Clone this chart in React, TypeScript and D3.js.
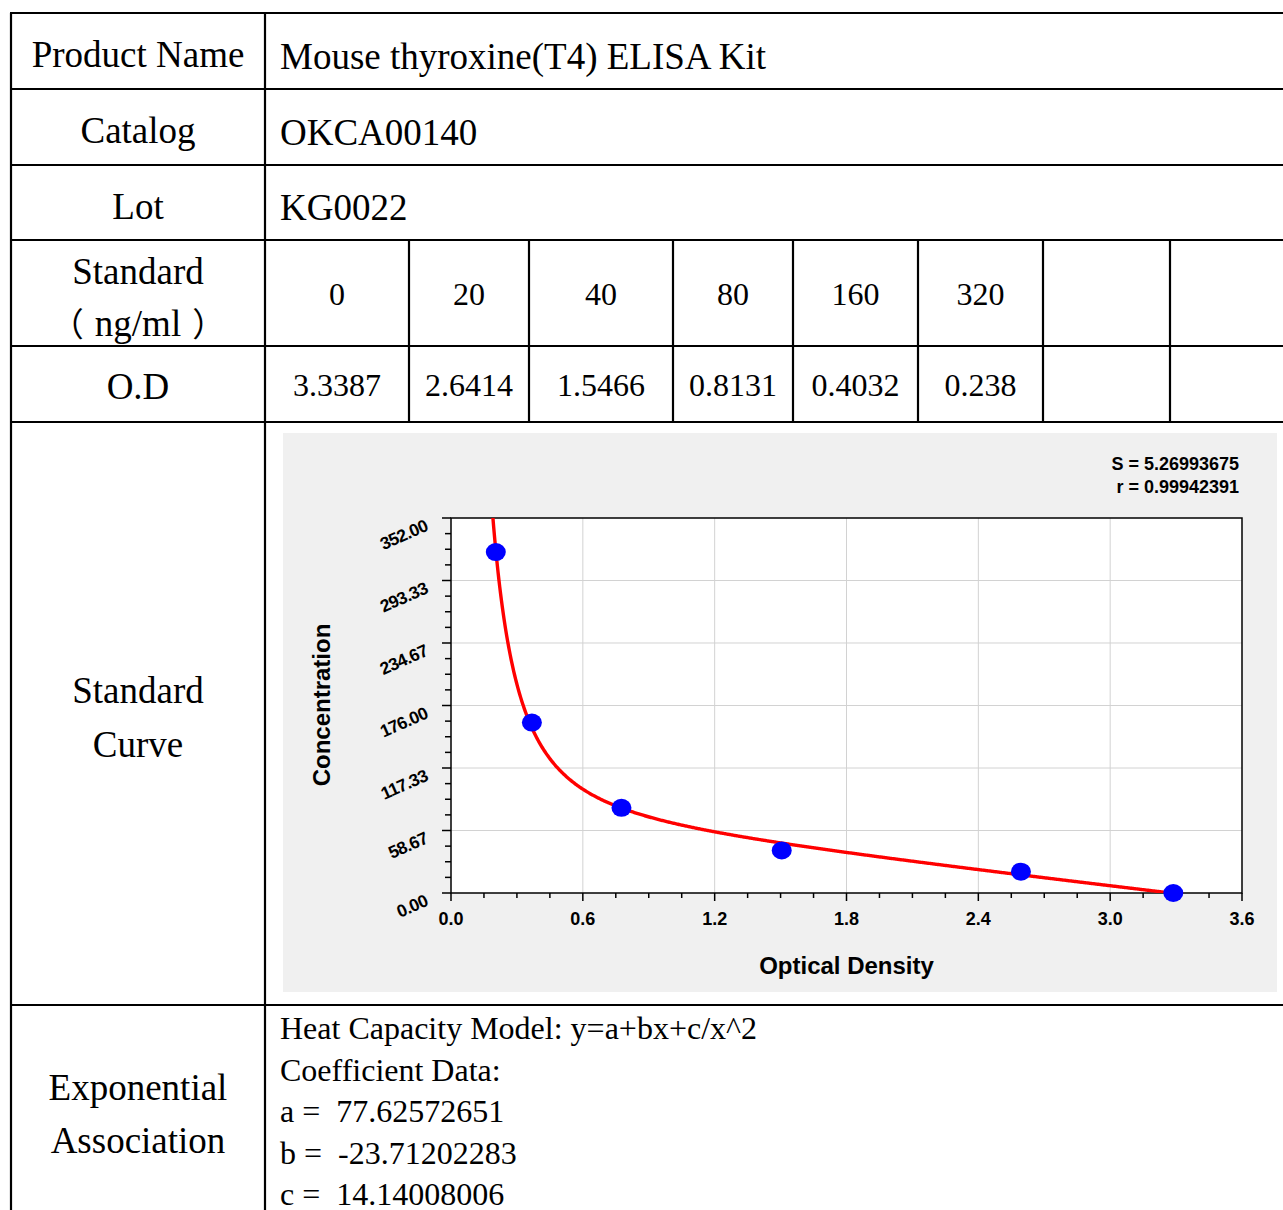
import React from 'react';
import * as d3 from 'd3';

// Table content
const standards = ['0', '20', '40', '80', '160', '320', '', ''];
const odLabels = ['3.3387', '2.6414', '1.5466', '0.8131', '0.4032', '0.238', '', ''];
const stdValues = [0, 20, 40, 80, 160, 320];
const odValues = [3.3387, 2.6414, 1.5466, 0.8131, 0.4032, 0.238];

// Fit (y = a + b*x + c/x^2)
const coefNames = ['a', 'b', 'c'];
const coefValues = [77.62572651, -23.71202283, 14.14008006];
const coefLabels = ['77.62572651', '-23.71202283', '14.14008006'];
const fitStats = ['S = 5.26993675', 'r = 0.99942391'];

// Axis ticks
const xTicks = [0, 0.6, 1.2, 1.8, 2.4, 3.0, 3.6];
const yTicks = [0, 58.67, 117.33, 176.0, 234.67, 293.33, 352.0];
const curveRange = [0.2, 3.41];

const W = 1283;
const H = 1210;

const serif = "'Liberation Serif', 'Times New Roman', 'Noto Sans CJK SC', serif";
const cjk = "'Noto Sans CJK SC', sans-serif";
const sans = "'Liberation Sans', Arial, sans-serif";

// table grid
const tableLeft = 11;
const colDiv = 265;
const rowLines = [13, 89, 165, 240, 346, 422, 1005];
const stdCols = [265, 409, 529, 673, 793, 918, 1043, 1170, 1290];

// plot frame
const panel = { x: 283, y: 433, w: 994, h: 559 };
const plot = { x0: 451, x1: 1242, y0: 518, y1: 893 };

export default function App() {
  const xAxis = d3.scaleLinear().domain([0, 3.6]).range([plot.x0, plot.x1]);
  // the marks in the source sit slightly left of the tick grid
  const xData = d3.scaleLinear().domain([0, 3.6]).range([443.8, 1230.4]);
  const y = d3.scaleLinear().domain([0, 352]).range([plot.y1, plot.y0]);

  const [a, b, c] = coefValues;
  const fit = (x: number) => a + b * x + c / (x * x);
  const curvePts = d3.range(curveRange[0], curveRange[1], 0.004).concat([curveRange[1]]);
  const line = d3
    .line<number>()
    .x((d) => xData(d))
    .y((d) => y(fit(d)))
    .curve(d3.curveLinear);

  const xMinor = d3.range(0, 3.6001, 0.15).filter((v) => Math.abs(v / 0.6 - Math.round(v / 0.6)) > 0.01);
  const yStep = 352 / 6;
  const yMinor = d3.range(0, 352.001, yStep / 4).filter((v) => Math.abs(v / yStep - Math.round(v / yStep)) > 0.01);

  const centre = (tableLeft + colDiv) / 2;

  return (
    <svg width={W} height={H} style={{ position: 'absolute', left: 0, top: 0, display: 'block', background: '#fff' }}>
      <defs>
        <clipPath id="plotClip">
          <rect x={plot.x0} y={plot.y0} width={plot.x1 - plot.x0} height={plot.y1 - plot.y0} />
        </clipPath>
      </defs>

      {/* Table lines */}
      <g stroke="#000" strokeWidth={2.2}>
        {rowLines.map((ry) => (
          <line key={ry} x1={tableLeft - 1} x2={W + 5} y1={ry} y2={ry} />
        ))}
        <line x1={tableLeft} x2={tableLeft} y1={rowLines[0]} y2={H + 5} />
        <line x1={colDiv} x2={colDiv} y1={rowLines[0]} y2={H + 5} />
        {stdCols.slice(1, -1).map((cx) => (
          <line key={cx} x1={cx} x2={cx} y1={rowLines[3]} y2={rowLines[5]} />
        ))}
      </g>

      {/* Left column labels */}
      <g fontFamily={serif} fontSize={37} textAnchor="middle" fill="#000">
        <text x={centre} y={67}>Product Name</text>
        <text x={centre} y={143}>Catalog</text>
        <text x={centre} y={219}>Lot</text>
        <text x={centre} y={284}>Standard</text>
        <text x={centre} y={336}>
          <tspan fontFamily={cjk} fontSize={33}>（</tspan>
          <tspan dx={11}>ng/ml</tspan>
          <tspan dx={11} fontFamily={cjk} fontSize={33}>）</tspan>
        </text>
        <text x={centre} y={399}>O.D</text>
        <text x={centre} y={703}>Standard</text>
        <text x={centre} y={757}>Curve</text>
        <text x={centre} y={1100}>Exponential</text>
        <text x={centre} y={1153}>Association</text>
      </g>

      {/* Right column values */}
      <g fontFamily={serif} fontSize={37} fill="#000">
        <text x={280} y={69}>Mouse thyroxine(T4) ELISA Kit</text>
        <text x={280} y={145}>OKCA00140</text>
        <text x={280} y={220}>KG0022</text>
      </g>

      <g fontFamily={serif} fontSize={32} textAnchor="middle" fill="#000">
        {standards.map((s, i) => (
          <text key={'s' + i} x={(stdCols[i] + stdCols[i + 1]) / 2} y={305}>{s}</text>
        ))}
        {odLabels.map((s, i) => (
          <text key={'o' + i} x={(stdCols[i] + stdCols[i + 1]) / 2} y={396}>{s}</text>
        ))}
      </g>

      {/* Model text */}
      <g fontFamily={serif} fontSize={32} fill="#000">
        <text x={280} y={1039}>Heat Capacity Model: y=a+bx+c/x^2</text>
        <text x={280} y={1081}>Coefficient Data:</text>
        {coefNames.map((n, i) => (
          <text key={n} x={280} y={1122 + i * 41.5} style={{ whiteSpace: 'pre' }}>
            {`${n} =  ${coefLabels[i]}`}
          </text>
        ))}
      </g>

      {/* Chart panel */}
      <rect x={panel.x} y={panel.y} width={panel.w} height={panel.h} fill="#f0f0f0" />
      <rect x={plot.x0} y={plot.y0} width={plot.x1 - plot.x0} height={plot.y1 - plot.y0} fill="#fff" />

      {/* Grid */}
      <g stroke="#d2d2d2" strokeWidth={1}>
        {xTicks.slice(1, -1).map((t) => (
          <line key={'gx' + t} x1={xAxis(t)} x2={xAxis(t)} y1={plot.y0} y2={plot.y1} />
        ))}
        {yTicks.slice(1, -1).map((t) => (
          <line key={'gy' + t} x1={plot.x0} x2={plot.x1} y1={y(t)} y2={y(t)} />
        ))}
      </g>

      {/* Ticks */}
      <g stroke="#000" strokeWidth={1.5}>
        {xTicks.map((t) => (
          <line key={'tx' + t} x1={xAxis(t)} x2={xAxis(t)} y1={plot.y1} y2={plot.y1 + 8} />
        ))}
        {xMinor.map((t) => (
          <line key={'mx' + t} x1={xAxis(t)} x2={xAxis(t)} y1={plot.y1} y2={plot.y1 + 5} />
        ))}
        {yTicks.map((t) => (
          <line key={'ty' + t} x1={plot.x0 - 9} x2={plot.x0} y1={y(t)} y2={y(t)} />
        ))}
        {yMinor.map((t) => (
          <line key={'my' + t} x1={plot.x0 - 6} x2={plot.x0} y1={y(t)} y2={y(t)} />
        ))}
      </g>

      {/* Frame */}
      <rect
        x={plot.x0}
        y={plot.y0}
        width={plot.x1 - plot.x0}
        height={plot.y1 - plot.y0}
        fill="none"
        stroke="#000"
        strokeWidth={1.5}
      />

      {/* Tick labels */}
      <g fontFamily={sans} fontWeight="bold" fill="#000">
        {xTicks.map((t) => (
          <text key={'lx' + t} x={xAxis(t)} y={plot.y1 + 32} textAnchor="middle" fontSize={18}>
            {t.toFixed(1)}
          </text>
        ))}
        {yTicks.map((t) => {
          const lx = plot.x0 - 22;
          const ly = y(t) + 12;
          return (
            <text key={'ly' + t} x={lx} y={ly} textAnchor="end" fontSize={17.5} letterSpacing={-0.6} transform={`rotate(-24 ${lx} ${ly})`}>
              {t.toFixed(2)}
            </text>
          );
        })}
      </g>

      {/* Axis titles */}
      <g fontFamily={sans} fontWeight="bold" fontSize={24} fill="#000" textAnchor="middle">
        <text x={(plot.x0 + plot.x1) / 2} y={974}>Optical Density</text>
        <text x={330} y={705} transform="rotate(-90 330 705)">Concentration</text>
      </g>

      {/* Fit stats */}
      <g fontFamily={sans} fontWeight="bold" fontSize={18} fill="#000" textAnchor="end">
        <text x={1239} y={470}>{fitStats[0]}</text>
        <text x={1239} y={493}>{fitStats[1]}</text>
      </g>

      {/* Fit curve */}
      <path d={line(curvePts) || ''} fill="none" stroke="#ff0000" strokeWidth={3.4} clipPath="url(#plotClip)" />

      {/* Standard points */}
      {odValues.map((od, i) => (
        <ellipse key={'p' + i} cx={xData(od)} cy={y(stdValues[i])} rx={10} ry={9} fill="#0000ff" />
      ))}
    </svg>
  );
}
